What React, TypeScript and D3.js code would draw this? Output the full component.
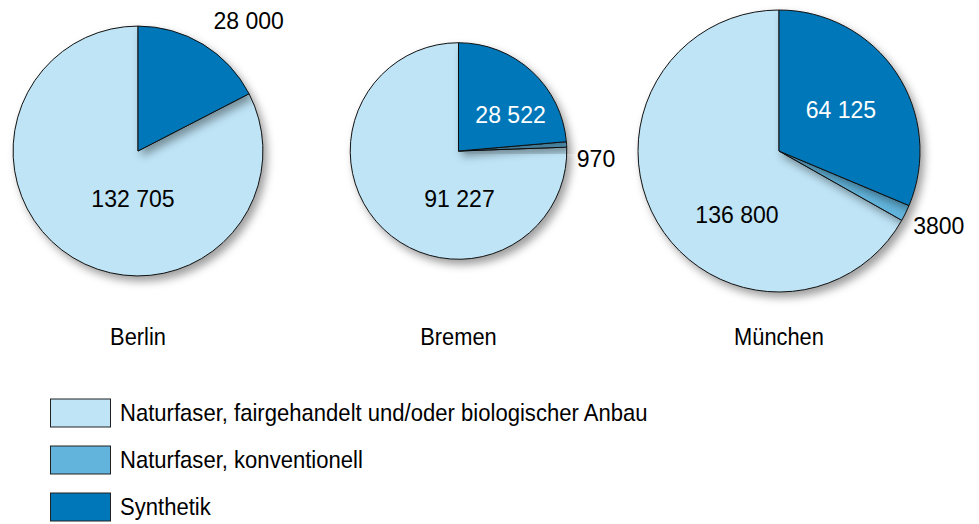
import { useEffect, useRef } from "react";
import * as d3 from "d3";

// Städte und Werte (Stück)
const cities = ["Berlin", "Bremen", "München"];
const synthetik = [28000, 28522, 64125];
const konventionell = [0, 970, 3800];
const fairBio = [132705, 91227, 136800];

const categories = [
  "Synthetik",
  "Naturfaser, konventionell",
  "Naturfaser, fairgehandelt und/oder biologischer Anbau",
];
const colors = ["#0077b9", "#62b4dc", "#bee4f6"];
const legendOrder = [2, 1, 0];

const W = 979;
const H = 524;
const FONT = "'Liberation Sans', Arial, sans-serif";

// label placement per city per category: [angle deg clockwise from 12h, radius factor, anchor, fill]
const labelPlacement: any = {
  Berlin: [
    [40.3, 1.37, "middle", "#000"],
    null,
    [186, 0.386, "middle", "#000"],
  ],
  Bremen: [
    [55.3, 0.585, "middle", "#fff"],
    [93.9, 1.095, "start", "#000"],
    [178.8, 0.444, "middle", "#000"],
  ],
  München: [
    [56.5, 0.527, "middle", "#fff"],
    [119.2, 1.09, "start", "#000"],
    [213.3, 0.543, "middle", "#000"],
  ],
};

const fmt = (n: number) =>
  n >= 10000 ? d3.format(",")(n).replace(/,/g, " ") : String(n);

// condensed look: tall glyphs squeezed horizontally
const addText = (
  parent: any,
  x: number,
  y: number,
  txt: string,
  size: number,
  sx: number,
  anchor = "start",
  fill = "#000"
) =>
  parent
    .append("text")
    .attr("transform", `translate(${x},${y}) scale(${sx},1)`)
    .attr("text-anchor", anchor)
    .attr("dominant-baseline", "central")
    .attr("fill", fill)
    .attr("font-family", FONT)
    .attr("font-size", size)
    .text(txt);

export default function App() {
  const svgRef = useRef<SVGSVGElement>(null);

  useEffect(() => {
    const svg = d3.select(svgRef.current);
    svg.selectAll("*").remove();

    const defs = svg.append("defs");
    const f = defs
      .append("filter")
      .attr("id", "shadow")
      .attr("x", "-30%")
      .attr("y", "-30%")
      .attr("width", "160%")
      .attr("height", "160%");
    f.append("feDropShadow")
      .attr("dx", 4)
      .attr("dy", 5)
      .attr("stdDeviation", 4)
      .attr("flood-color", "#000")
      .attr("flood-opacity", 0.38);

    const totals = cities.map((_, i) => synthetik[i] + konventionell[i] + fairBio[i]);
    const rScale = d3.scaleSqrt().domain([0, d3.max(totals)!]).range([0, 141]);
    const xScale = d3.scalePoint<string>().domain(cities).range([138, 779]);
    const cy = 151;

    const pie = d3
      .pie<number>()
      .sort(null)
      .value((d) => d);

    cities.forEach((city, i) => {
      const r = rScale(totals[i]);
      const g = svg
        .append("g")
        .attr("transform", `translate(${xScale(city)},${cy})`);
      const arcs = pie([synthetik[i], konventionell[i], fairBio[i]]);
      const arc = d3.arc<d3.PieArcDatum<number>>().innerRadius(0).outerRadius(r);

      // light slice first so the darker slices cast shadow on it
      [2, 1, 0].forEach((k) => {
        const a = arcs[k];
        if (a.value <= 0) return;
        g.append("path")
          .attr("d", arc(a) as string)
          .attr("fill", colors[k])
          .attr("stroke", "#111")
          .attr("stroke-width", 1)
          .attr("stroke-linejoin", "round")
          .attr("filter", "url(#shadow)");
      });

      const place = labelPlacement[city];
      [0, 1, 2].forEach((k) => {
        const p = place[k];
        if (!p || arcs[k].value <= 0) return;
        const ang = (p[0] * Math.PI) / 180;
        const rr = p[1] * r;
        addText(g, Math.sin(ang) * rr, -Math.cos(ang) * rr, fmt(arcs[k].value), 24, 0.96, p[2], p[3]);
      });

      addText(svg, xScale(city)!, 337, city, 24, 0.91, "middle");
    });

    // legend
    const ly = d3.scalePoint<number>().domain(legendOrder).range([413, 507]);
    const lg = svg.append("g");
    legendOrder.forEach((k) => {
      lg.append("rect")
        .attr("x", 50.5)
        .attr("y", ly(k)! - 14)
        .attr("width", 60)
        .attr("height", 28)
        .attr("fill", colors[k])
        .attr("stroke", "#222")
        .attr("stroke-width", 1);
      addText(lg, 120, ly(k)!, categories[k], 24, 0.92);
    });
  }, []);

  return (
    <svg
      ref={svgRef}
      width={W}
      height={H}
      style={{ position: "absolute", left: 0, top: 0, background: "#fff" }}
    />
  );
}
